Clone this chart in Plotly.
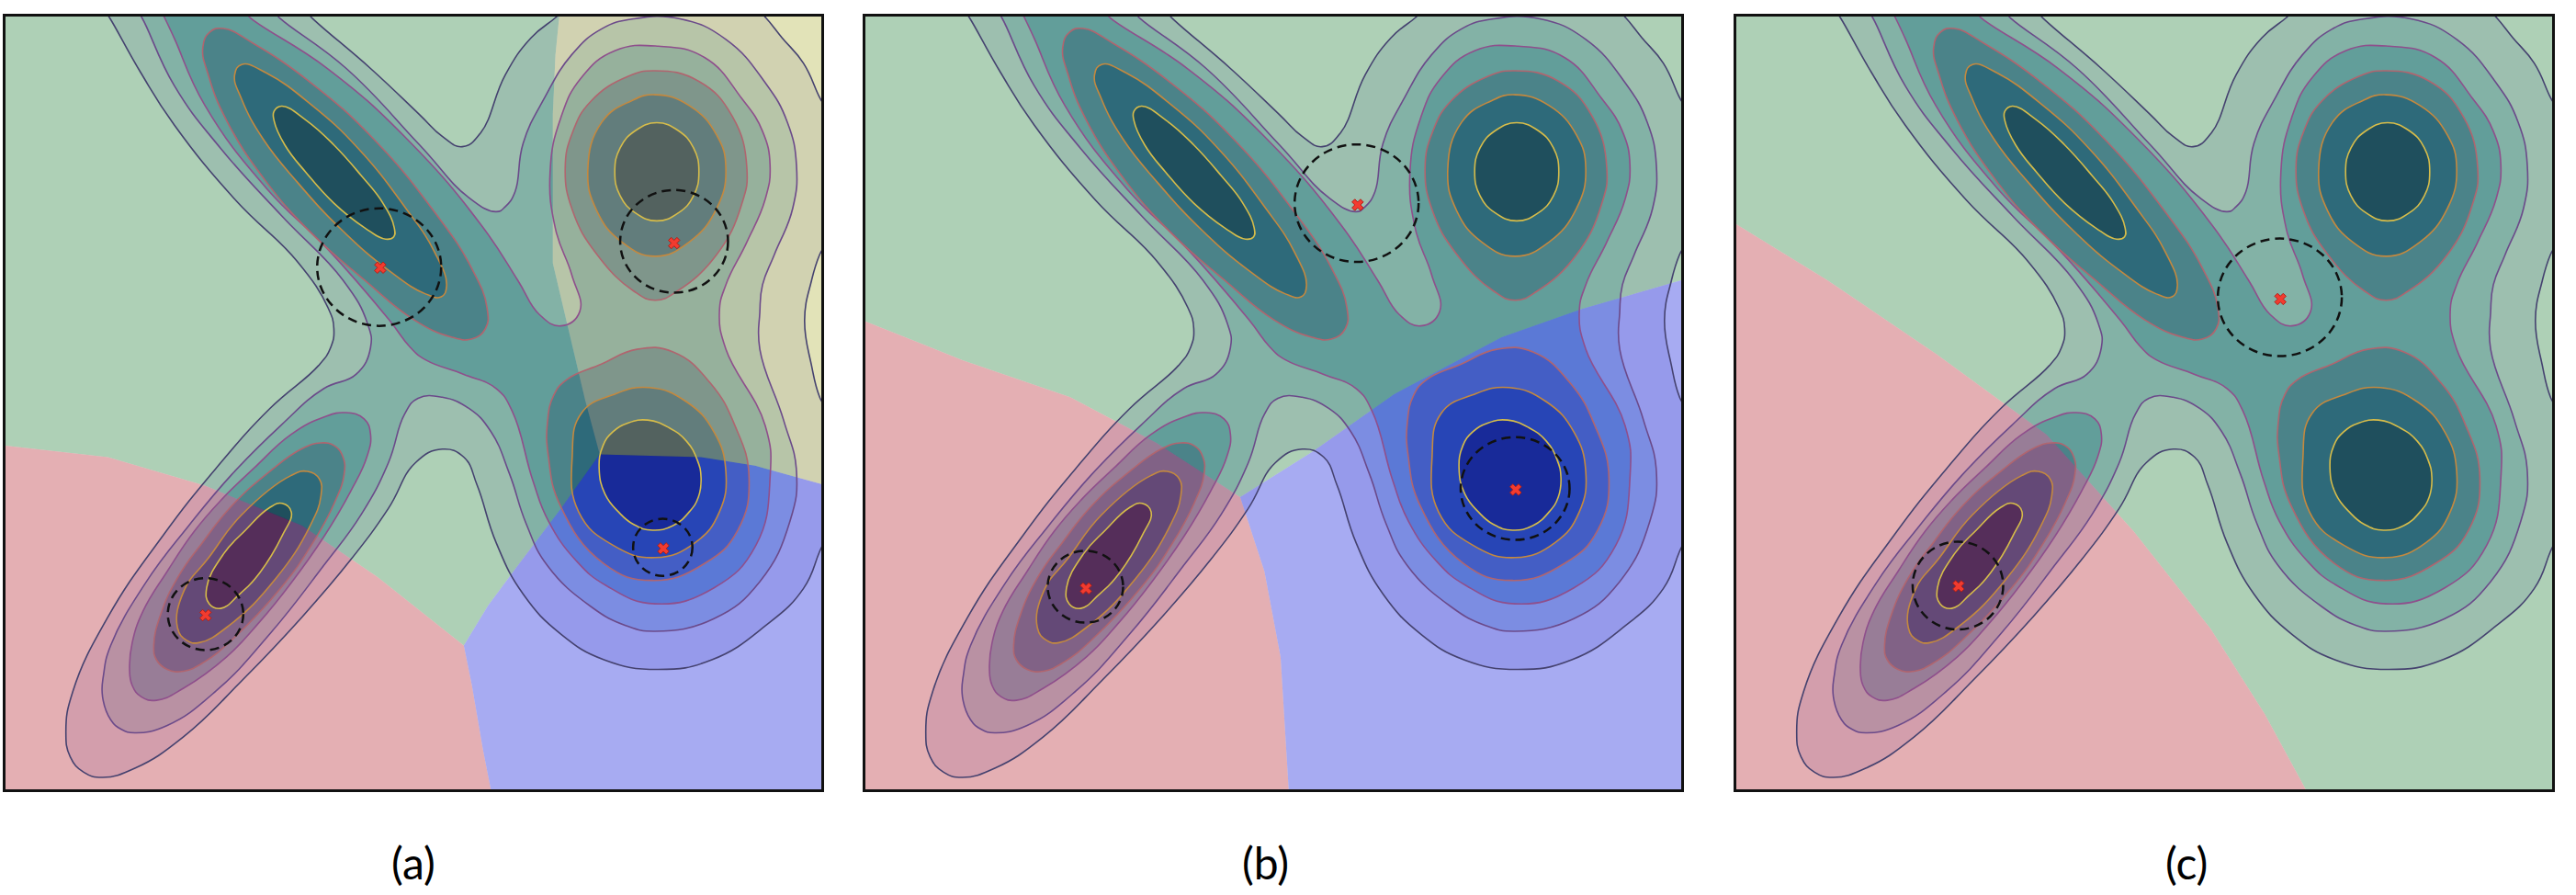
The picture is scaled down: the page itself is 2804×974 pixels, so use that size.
"""
Three panels: decision regions laid over the same six-level density contours,
with the sampled points and their dashed neighbourhoods.
All outlines were traced off the picture, in one shared coordinate frame
(x 10-1523, y 28-1382, y pointing down).
"""

import plotly.graph_objects as go
from plotly.subplots import make_subplots

X_RANGE = [10, 1523]
Y_RANGE = [1382, 28]
W, H = 2804, 974

# ---------------------------------------------------------
# Density contours, level 1 (outer) to level 6 (inner)
# ---------------------------------------------------------
L1_main = [(190, 12), (203, 30), (260, 125), (323, 218), (437, 350), (551, 457), (608, 538), (619, 575), (613, 608),
           (590, 640), (500, 715), (400, 820), (300, 940), (200, 1080), (135, 1210), (122, 1280), (130, 1325),
           (155, 1352), (190, 1361), (250, 1345), (340, 1290), (450, 1190), (560, 1080), (650, 980), (720, 890),
           (770, 810), (820, 786), (860, 800), (885, 850), (920, 950), (970, 1040), (1040, 1110), (1120, 1155),
           (1220, 1172), (1320, 1155), (1420, 1095), (1490, 1030), (1520, 965), (1540, 920), (1540, 730), (1520, 695),
           (1505, 640), (1492, 560), (1505, 490), (1520, 445), (1540, 410), (1540, 205), (1520, 170), (1490, 110),
           (1450, 65), (1420, 30), (1400, 12), (1050, 12), (1030, 30), (985, 65), (937, 130), (891, 232), (857, 256),
           (820, 238), (778, 200), (687, 119), (579, 31), (560, 12)]
L2_main = [(250, 12), (263, 30), (323, 149), (409, 259), (522, 377), (636, 490), (681, 565), (687, 608), (660, 655),
           (600, 680), (520, 745), (430, 830), (350, 920), (270, 1020), (205, 1130), (192, 1180), (190, 1220),
           (205, 1260), (225, 1277), (250, 1283), (310, 1270), (400, 1210), (500, 1110), (600, 990), (670, 900),
           (720, 810), (750, 725), (775, 697), (820, 695), (870, 715), (910, 755), (945, 830), (975, 915), (1015, 990),
           (1096, 1062), (1160, 1095), (1215, 1105), (1324, 1083), (1409, 1018), (1465, 912), (1477, 825), (1453, 735),
           (1409, 611), (1409, 546), (1414, 498), (1436, 445), (1470, 364), (1477, 289), (1460, 213), (1419, 144),
           (1346, 68), (1261, 32), (1175, 32), (1115, 50), (1060, 95), (1010, 170), (970, 250), (955, 335), (937, 361),
           (920, 370), (869, 345), (778, 253), (642, 119), (519, 31), (500, 12)]
L3_main = [(295, 12), (305, 30), (323, 66), (380, 184), (494, 329), (608, 436), (721, 559), (761, 608), (790, 630),
           (860, 655), (920, 680), (950, 720), (988, 841), (1017, 912), (1068, 981), (1124, 1025), (1215, 1057),
           (1324, 1029), (1402, 954), (1428, 836), (1419, 745), (1346, 611), (1334, 546), (1346, 498), (1385, 423),
           (1419, 348), (1428, 289), (1414, 229), (1375, 171), (1307, 100), (1221, 80), (1140, 88), (1078, 135),
           (1040, 205), (1020, 300), (1030, 400), (1060, 480), (1075, 545), (1040, 570), (1000, 550), (960, 490),
           (892, 393), (755, 243), (607, 119), (465, 31), (445, 12)]
L3_sw = [(240, 1170), (245, 1200), (262, 1220), (290, 1226), (340, 1205), (420, 1150), (480, 1090), (540, 1020),
         (600, 940), (650, 860), (680, 800), (687, 760), (675, 733), (640, 722), (600, 730), (540, 760), (470, 820),
         (410, 875), (360, 930), (310, 1000), (265, 1070), (245, 1125)]
L4_sw = [(285, 1130), (290, 1155), (310, 1172), (340, 1175), (380, 1158), (430, 1120), (520, 1030), (580, 950),
         (620, 880), (638, 830), (636, 800), (620, 780), (595, 775), (560, 785), (500, 825), (430, 885), (375, 950),
         (330, 1010), (298, 1075)]
L5_sw = [(329, 1099), (346, 1121), (369, 1125), (426, 1094), (511, 1013), (574, 922), (595, 868), (592, 838),
         (570, 825), (540, 832), (448, 901), (387, 976), (341, 1034)]
L6_sw = [(383, 1029), (388, 1057), (409, 1065), (443, 1041), (482, 1002), (523, 938), (540, 896), (523, 881),
         (499, 889), (455, 928), (414, 970)]
L4_nw = [(376, 82), (389, 55), (414, 49), (471, 76), (579, 146), (693, 243), (806, 371), (874, 468), (903, 538),
         (900, 575), (874, 593), (835, 589), (767, 559), (676, 490), (579, 409), (494, 318), (420, 210), (386, 130)]
L5_nw = [(435, 130), (448, 112), (494, 127), (579, 184), (664, 259), (750, 361), (806, 441), (828, 500), (818, 519),
         (789, 514), (721, 473), (636, 404), (551, 318), (488, 243), (448, 173)]
L6_nw = [(508, 194), (522, 185), (568, 210), (619, 253), (670, 307), (710, 355), (731, 398), (730, 414), (715, 418),
         (676, 398), (619, 355), (568, 302), (528, 253), (508, 210)]
L4_ne = [(1048, 294), (1062, 230), (1096, 176), (1164, 133), (1215, 123), (1295, 141), (1358, 203), (1385, 294),
         (1375, 358), (1329, 445), (1256, 509), (1215, 525), (1175, 509), (1107, 445), (1062, 369)]
L5_ne = [(1090, 297), (1116, 213), (1170, 176), (1215, 165), (1278, 184), (1329, 236), (1346, 294), (1329, 364),
         (1278, 423), (1215, 448), (1153, 423), (1107, 369)]
L6_ne = [(1140, 300), (1150, 258), (1178, 228), (1218, 214), (1258, 228), (1286, 258), (1296, 300), (1286, 342),
         (1258, 372), (1218, 386), (1178, 372), (1150, 342)]
L4_se = [(1015, 740), (1027, 691), (1051, 664), (1115, 637), (1181, 611), (1249, 616), (1317, 670), (1363, 745),
         (1389, 836), (1368, 928), (1307, 986), (1210, 1016), (1119, 986), (1039, 885), (1017, 800)]
L5_se = [(1061, 799), (1078, 723), (1136, 691), (1204, 678), (1273, 703), (1324, 756), (1346, 825), (1334, 896),
         (1290, 949), (1215, 976), (1136, 954), (1073, 896)]
L6_se = [(1111, 820), (1118, 780), (1136, 756), (1165, 740), (1201, 735), (1240, 748), (1273, 772), (1293, 805),
         (1300, 836), (1295, 870), (1278, 896), (1248, 920), (1210, 928), (1175, 918), (1147, 896), (1122, 865)]

contour_levels = [
    [L1_main],
    [L2_main],
    [L3_main, L3_sw],
    [L4_sw, L4_nw, L4_ne, L4_se],
    [L5_sw, L5_nw, L5_ne, L5_se],
    [L6_sw, L6_nw, L6_ne, L6_se],
]
fill_colors = ["#E3E3F3", "#B7CDE4", "#80ACD0", "#5A7FB4", "#2B559B", "#11286C"]
line_colors = ["#45426F", "#6B4A8A", "#8F4F8C", "#B0656F", "#C4893F", "#D6BC4A"]

# ---------------------------------------------------------
# Decision regions, one set per panel
# ---------------------------------------------------------
GREEN = "rgba(52,137,72,0.4)"
RED = "rgba(187,55,65,0.4)"
BLUE = "rgba(35,45,222,0.4)"
YELLOW = "rgba(182,185,77,0.4)"

a_red_edge = [(10, 780), (200, 800), (380, 850), (560, 920), (700, 1010), (860, 1130)]
a_blue_left = [(860, 1130), (875, 1200), (895, 1310), (910, 1382)]
a_blue_rise = [(860, 1130), (905, 1060), (960, 990), (1040, 890), (1112, 795)]
a_blue_top = [(1112, 795), (1300, 800), (1400, 815), (1523, 847)]
a_yellow_left = [(1037, 28), (1030, 95), (1025, 200), (1025, 460), (1040, 520), (1060, 600), (1085, 700), (1112, 795)]

b_red_edge = [(10, 562), (190, 630), (390, 695), (550, 775), (705, 870)]
b_blue_left = [(705, 870), (750, 1000), (780, 1150), (795, 1382)]
b_blue_top = [(705, 870), (840, 790), (990, 690), (1190, 590), (1340, 540), (1523, 490)]

c_red_edge = [(10, 392), (179, 490), (382, 620), (585, 760), (747, 930), (889, 1100), (990, 1250), (1066, 1382)]

panel_regions = [
    [
        (GREEN, [(10, 28)] + a_yellow_left + a_blue_rise[::-1][1:] + a_red_edge[::-1][1:]),
        (RED, a_red_edge + a_blue_left[1:] + [(10, 1382)]),
        (BLUE, a_blue_rise + a_blue_top[1:] + [(1523, 1382)] + a_blue_left[::-1][:-1]),
        (YELLOW, a_yellow_left + a_blue_top[1:] + [(1523, 28)]),
    ],
    [
        (GREEN, [(10, 28), (1523, 28)] + b_blue_top[::-1] + b_red_edge[::-1][1:]),
        (RED, b_red_edge + b_blue_left[1:] + [(10, 1382)]),
        (BLUE, b_blue_top + [(1523, 1382)] + b_blue_left[::-1][:-1]),
    ],
    [
        (GREEN, [(10, 28), (1523, 28), (1523, 1382)] + c_red_edge[::-1]),
        (RED, c_red_edge + [(10, 1382)]),
    ],
]

# ---------------------------------------------------------
# Sampled points and their dashed neighbourhoods (cx, cy, rx, ry)
# ---------------------------------------------------------
points_x = [[705, 1250, 1230, 381], [923, 1216, 419], [1019, 422]]
points_y = [[468, 425, 960, 1077], [358, 857, 1030], [523, 1026]]
circles = [
    [(703, 467, 115, 103), (1250, 422, 100, 90), (1229, 958, 55, 50), (381, 1075, 70, 63)],
    [(921, 355, 115, 103), (1215, 855, 101, 90), (418, 1027, 70, 63)],
    [(1018, 520, 115, 103), (421, 1025, 84, 77)],
]

panel_left_px = [6, 942, 1890]
PANEL_WIDTH_PX = 888
PANEL_TOP_PX = 18
PANEL_BOTTOM_PX = 859
labels = ["(a)", "(b)", "(c)"]
label_x_px = [450, 1377, 2380]
LABEL_Y_PX = 938


def closed(pts):
    xs = [p[0] for p in pts] + [pts[0][0]]
    ys = [p[1] for p in pts] + [pts[0][1]]
    return xs, ys


fig = make_subplots(rows=1, cols=3)

for col in range(1, 4):
    # contour fills go first, the see-through regions tint them from above
    for level, polys in enumerate(contour_levels):
        for poly in polys:
            xs, ys = closed(poly)
            fig.add_trace(go.Scatter(x=xs, y=ys, mode="lines", fill="toself", fillcolor=fill_colors[level],
                                     line=dict(width=0, shape="spline", smoothing=1.3), hoverinfo="skip",
                                     showlegend=False), row=1, col=col)
    for color, poly in panel_regions[col - 1]:
        xs, ys = closed(poly)
        fig.add_trace(go.Scatter(x=xs, y=ys, mode="lines", fill="toself", fillcolor=color, line=dict(width=0),
                                 hoverinfo="skip", showlegend=False), row=1, col=col)
    for level, polys in enumerate(contour_levels):
        for poly in polys:
            xs, ys = closed(poly)
            fig.add_trace(go.Scatter(x=xs, y=ys, mode="lines", hoverinfo="skip", showlegend=False,
                                     line=dict(width=1.6, color=line_colors[level], shape="spline", smoothing=1.3)),
                          row=1, col=col)
    fig.add_trace(go.Scatter(x=points_x[col - 1], y=points_y[col - 1], mode="markers", showlegend=False,
                             marker=dict(symbol="x", size=11, color="#F23B2F", line=dict(width=1, color="#B02018"))),
                  row=1, col=col)
    for cx, cy, rx, ry in circles[col - 1]:
        fig.add_shape(type="circle", x0=cx - rx, x1=cx + rx, y0=cy - ry, y1=cy + ry, row=1, col=col,
                      line=dict(color="#111111", width=2.5, dash="10px,6px"), layer="above")

    left = panel_left_px[col - 1]
    fig.update_xaxes(domain=[left / W, (left + PANEL_WIDTH_PX) / W], range=X_RANGE, row=1, col=col)
    fig.update_yaxes(domain=[1 - PANEL_BOTTOM_PX / H, 1 - PANEL_TOP_PX / H], range=Y_RANGE, row=1, col=col)

    fig.add_annotation(text=labels[col - 1], x=label_x_px[col - 1] / W, y=1 - LABEL_Y_PX / H, xref="paper", yref="paper",
                       xanchor="center", yanchor="middle", showarrow=False,
                       font=dict(family="Lato", size=48, color="#000000"))

fig.update_xaxes(showticklabels=False, ticks="", showgrid=False, zeroline=False, showline=True, linecolor="#111111",
                 linewidth=3, mirror=True)
fig.update_yaxes(showticklabels=False, ticks="", showgrid=False, zeroline=False, showline=True, linecolor="#111111",
                 linewidth=3, mirror=True)
fig.update_layout(width=W, height=H, margin=dict(l=0, r=0, t=0, b=0), plot_bgcolor="#FFFFFF", paper_bgcolor="#FFFFFF",
                  showlegend=False)

fig.write_html("out.html", config={"displayModeBar": False}, post_script="document.body.style.margin='0';")
